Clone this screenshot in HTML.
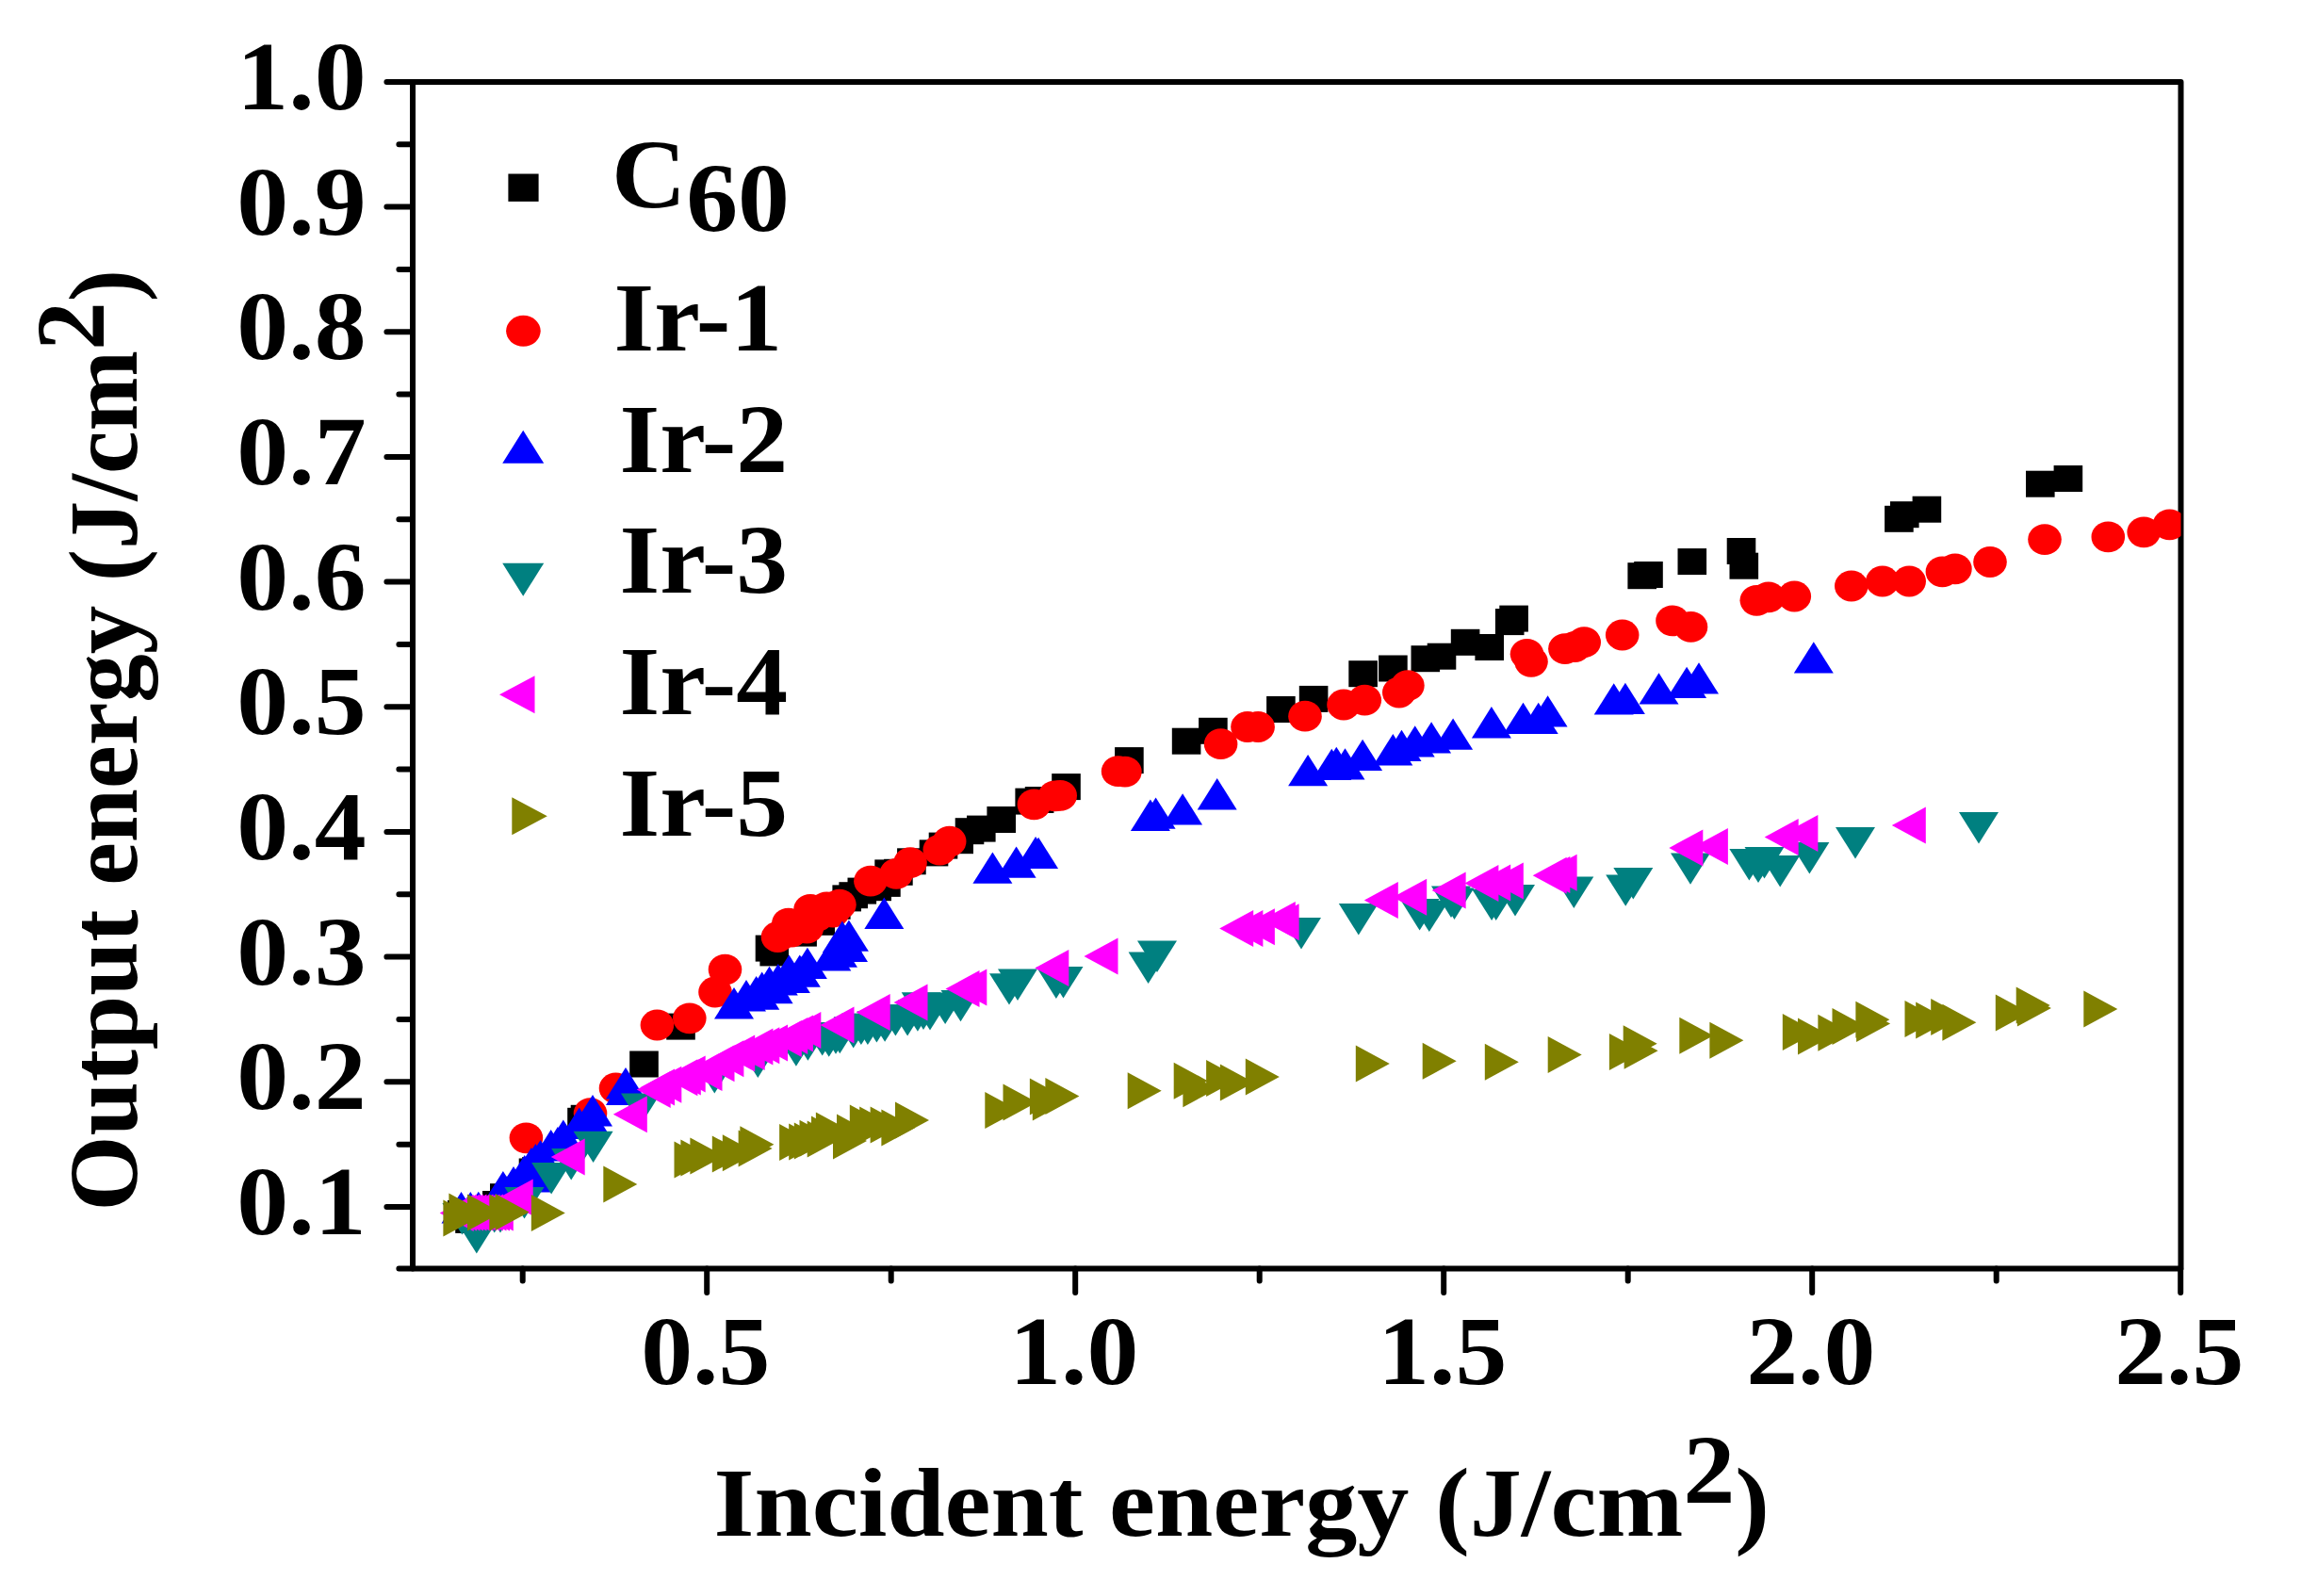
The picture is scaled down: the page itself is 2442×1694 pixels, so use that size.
<!DOCTYPE html>
<html lang="en"><head><meta charset="utf-8"><title>Output energy vs incident energy</title>
<style>
html,body{margin:0;padding:0;background:#fff}
body{width:2442px;height:1694px;overflow:hidden}
svg{display:block}
text{font-family:"Liberation Serif",serif;font-weight:bold;fill:#000}
.tk{font-size:104.5px}
.ax{stroke:#000;stroke-width:6;stroke-linecap:round;fill:none}
</style></head><body>
<svg width="2442" height="1694" viewBox="0 0 2442 1694">
<rect width="2442" height="1694" fill="#fff"/>
<g class="ax">
<path d="M438 86.9H2314.5V1346.5H438Z" stroke-linejoin="round"/>
<path d="M438 1346.5h-14.6M438 1281h-27.6M438 1214.7h-14.6M438 1148.3h-27.6M438 1082h-14.6M438 1015.6h-27.6M438 949.3h-14.6M438 883h-27.6M438 816.6h-14.6M438 750.3h-27.6M438 683.9h-14.6M438 617.6h-27.6M438 551.3h-14.6M438 484.9h-27.6M438 418.6h-14.6M438 352.3h-27.6M438 285.9h-14.6M438 219.6h-27.6M438 153.2h-14.6M438 86.9h-27.6M554.7 1346.5v13M750.2 1346.5v25.5M945.7 1346.5v13M1141.2 1346.5v25.5M1336.7 1346.5v13M1532.2 1346.5v25.5M1727.7 1346.5v13M1923.2 1346.5v25.5M2118.7 1346.5v13M2314.2 1346.5v25.5"/>
</g>
<text class="tk" transform="translate(388.5 1310) scale(1.05 1)" text-anchor="end">0.1</text>
<text class="tk" transform="translate(388.5 1177.3) scale(1.05 1)" text-anchor="end">0.2</text>
<text class="tk" transform="translate(388.5 1044.6) scale(1.05 1)" text-anchor="end">0.3</text>
<text class="tk" transform="translate(388.5 912) scale(1.05 1)" text-anchor="end">0.4</text>
<text class="tk" transform="translate(388.5 779.3) scale(1.05 1)" text-anchor="end">0.5</text>
<text class="tk" transform="translate(388.5 646.6) scale(1.05 1)" text-anchor="end">0.6</text>
<text class="tk" transform="translate(388.5 513.9) scale(1.05 1)" text-anchor="end">0.7</text>
<text class="tk" transform="translate(388.5 381.3) scale(1.05 1)" text-anchor="end">0.8</text>
<text class="tk" transform="translate(388.5 248.6) scale(1.05 1)" text-anchor="end">0.9</text>
<text class="tk" transform="translate(388.5 115.9) scale(1.05 1)" text-anchor="end">1.0</text>
<text class="tk" transform="translate(748.7 1468.5) scale(1.05 1)" text-anchor="middle">0.5</text>
<text class="tk" transform="translate(1139.7 1468.5) scale(1.05 1)" text-anchor="middle">1.0</text>
<text class="tk" transform="translate(1530.7 1468.5) scale(1.05 1)" text-anchor="middle">1.5</text>
<text class="tk" transform="translate(1921.7 1468.5) scale(1.05 1)" text-anchor="middle">2.0</text>
<text class="tk" transform="translate(2312.7 1468.5) scale(1.05 1)" text-anchor="middle">2.5</text>
<text class="tk" transform="translate(757.5 1630) scale(1.055 1)" text-anchor="start">Incident energy (J/cm<tspan dy="-35">2</tspan><tspan dy="35">)</tspan></text>
<text class="tk" style="font-size:102.8px" transform="translate(145 1285.4) rotate(-90)">Output energy (J/cm<tspan dy="-35">2</tspan><tspan dy="35">)</tspan></text>
<defs><clipPath id="pc"><rect x="438" y="86.9" width="1876.5" height="1259.6"/></clipPath></defs>
<g clip-path="url(#pc)">
<g fill="#000"><rect x="475" y="1274" width="30.6" height="28"/><rect x="483.2" y="1280.9" width="30.6" height="28"/><rect x="512" y="1264" width="30.6" height="28"/><rect x="520" y="1256.2" width="30.6" height="28"/><rect x="532.1" y="1248.8" width="30.6" height="28"/><rect x="550.7" y="1229.5" width="30.6" height="28"/><rect x="554.2" y="1228" width="30.6" height="28"/><rect x="602.2" y="1175.8" width="30.6" height="28"/><rect x="605.7" y="1172.8" width="30.6" height="28"/><rect x="668.2" y="1115.5" width="30.6" height="28"/><rect x="707.2" y="1075.6" width="30.6" height="28"/><rect x="801.7" y="992.6" width="30.6" height="28"/><rect x="806.4" y="997.4" width="30.6" height="28"/><rect x="836.3" y="976.6" width="30.6" height="28"/><rect x="855.4" y="964.8" width="30.6" height="28"/><rect x="872" y="947.8" width="30.6" height="28"/><rect x="883.4" y="939.4" width="30.6" height="28"/><rect x="890.4" y="936.2" width="30.6" height="28"/><rect x="899.5" y="931.6" width="30.6" height="28"/><rect x="915.4" y="928.2" width="30.6" height="28"/><rect x="925.1" y="923.9" width="30.6" height="28"/><rect x="928.3" y="912.4" width="30.6" height="28"/><rect x="938.1" y="911.8" width="30.6" height="28"/><rect x="952.1" y="900.3" width="30.6" height="28"/><rect x="975.7" y="891.4" width="30.6" height="28"/><rect x="985.7" y="883.6" width="30.6" height="28"/><rect x="1002.4" y="878.2" width="30.6" height="28"/><rect x="1013.7" y="868.2" width="30.6" height="28"/><rect x="1026" y="865.6" width="30.6" height="28"/><rect x="1047.4" y="856" width="30.6" height="28"/><rect x="1077.4" y="836.6" width="30.6" height="28"/><rect x="1087.8" y="835" width="30.6" height="28"/><rect x="1116.2" y="821.1" width="30.6" height="28"/><rect x="1183.1" y="793.1" width="30.6" height="28"/><rect x="1243.8" y="772.7" width="30.6" height="28"/><rect x="1272.1" y="761.8" width="30.6" height="28"/><rect x="1344.1" y="739" width="30.6" height="28"/><rect x="1378.8" y="727.9" width="30.6" height="28"/><rect x="1431.3" y="701.2" width="30.6" height="28"/><rect x="1463.1" y="695.5" width="30.6" height="28"/><rect x="1497.5" y="685.2" width="30.6" height="28"/><rect x="1514.7" y="682.7" width="30.6" height="28"/><rect x="1539.8" y="667.8" width="30.6" height="28"/><rect x="1565.4" y="673" width="30.6" height="28"/><rect x="1586.9" y="646.1" width="30.6" height="28"/><rect x="1591.3" y="642.6" width="30.6" height="28"/><rect x="1727.4" y="597.2" width="30.6" height="28"/><rect x="1734.2" y="596" width="30.6" height="28"/><rect x="1780.5" y="582.1" width="30.6" height="28"/><rect x="1832.7" y="571" width="30.6" height="28"/><rect x="1835.5" y="586.7" width="30.6" height="28"/><rect x="2000.1" y="536.8" width="30.6" height="28"/><rect x="2006" y="532.2" width="30.6" height="28"/><rect x="2029.6" y="526.7" width="30.6" height="28"/><rect x="2150" y="499.7" width="30.6" height="28"/><rect x="2179.6" y="494" width="30.6" height="28"/></g>
<g fill="#f00"><ellipse cx="558.4" cy="1207.8" rx="17.8" ry="16.4"/><ellipse cx="626.5" cy="1181.7" rx="17.8" ry="16.4"/><ellipse cx="653.5" cy="1155" rx="17.8" ry="16.4"/><ellipse cx="697.4" cy="1088" rx="17.8" ry="16.4"/><ellipse cx="731.8" cy="1080.8" rx="17.8" ry="16.4"/><ellipse cx="759" cy="1053" rx="17.8" ry="16.4"/><ellipse cx="769.5" cy="1029.1" rx="17.8" ry="16.4"/><ellipse cx="825.5" cy="994.5" rx="17.8" ry="16.4"/><ellipse cx="836.8" cy="980.2" rx="17.8" ry="16.4"/><ellipse cx="840" cy="989" rx="17.8" ry="16.4"/><ellipse cx="850" cy="981" rx="17.8" ry="16.4"/><ellipse cx="856.4" cy="985" rx="17.8" ry="16.4"/><ellipse cx="860" cy="965.4" rx="17.8" ry="16.4"/><ellipse cx="868" cy="972" rx="17.8" ry="16.4"/><ellipse cx="877.3" cy="962.8" rx="17.8" ry="16.4"/><ellipse cx="884" cy="968" rx="17.8" ry="16.4"/><ellipse cx="890.9" cy="960.2" rx="17.8" ry="16.4"/><ellipse cx="923.9" cy="935.2" rx="17.8" ry="16.4"/><ellipse cx="951.2" cy="927.4" rx="17.8" ry="16.4"/><ellipse cx="966" cy="915.7" rx="17.8" ry="16.4"/><ellipse cx="997.3" cy="902.1" rx="17.8" ry="16.4"/><ellipse cx="1007.7" cy="893.1" rx="17.8" ry="16.4"/><ellipse cx="1097.4" cy="853.9" rx="17.8" ry="16.4"/><ellipse cx="1119.6" cy="844.8" rx="17.8" ry="16.4"/><ellipse cx="1125.2" cy="844.4" rx="17.8" ry="16.4"/><ellipse cx="1186.6" cy="818.7" rx="17.8" ry="16.4"/><ellipse cx="1193.9" cy="819.1" rx="17.8" ry="16.4"/><ellipse cx="1295.6" cy="789.7" rx="17.8" ry="16.4"/><ellipse cx="1324" cy="771.5" rx="17.8" ry="16.4"/><ellipse cx="1335.1" cy="771.5" rx="17.8" ry="16.4"/><ellipse cx="1385" cy="760.2" rx="17.8" ry="16.4"/><ellipse cx="1426" cy="748" rx="17.8" ry="16.4"/><ellipse cx="1448.3" cy="743.2" rx="17.8" ry="16.4"/><ellipse cx="1484.8" cy="735" rx="17.8" ry="16.4"/><ellipse cx="1493.9" cy="727.6" rx="17.8" ry="16.4"/><ellipse cx="1620.5" cy="694.3" rx="17.8" ry="16.4"/><ellipse cx="1625" cy="702.3" rx="17.8" ry="16.4"/><ellipse cx="1660.9" cy="688.6" rx="17.8" ry="16.4"/><ellipse cx="1671.3" cy="686.5" rx="17.8" ry="16.4"/><ellipse cx="1681.2" cy="681.7" rx="17.8" ry="16.4"/><ellipse cx="1721.7" cy="674" rx="17.8" ry="16.4"/><ellipse cx="1775" cy="658.9" rx="17.8" ry="16.4"/><ellipse cx="1794.5" cy="665.4" rx="17.8" ry="16.4"/><ellipse cx="1864.3" cy="637.3" rx="17.8" ry="16.4"/><ellipse cx="1876.8" cy="633.9" rx="17.8" ry="16.4"/><ellipse cx="1904.3" cy="633" rx="17.8" ry="16.4"/><ellipse cx="1964.8" cy="622" rx="17.8" ry="16.4"/><ellipse cx="1997.8" cy="617" rx="17.8" ry="16.4"/><ellipse cx="2026.2" cy="617" rx="17.8" ry="16.4"/><ellipse cx="2061.4" cy="606.9" rx="17.8" ry="16.4"/><ellipse cx="2074.9" cy="603.9" rx="17.8" ry="16.4"/><ellipse cx="2112" cy="596.5" rx="17.8" ry="16.4"/><ellipse cx="2170" cy="572.6" rx="17.8" ry="16.4"/><ellipse cx="2237.3" cy="569.9" rx="17.8" ry="16.4"/><ellipse cx="2275.2" cy="564.8" rx="17.8" ry="16.4"/><ellipse cx="2302.5" cy="556.8" rx="17.8" ry="16.4"/></g>
<g fill="#00f"><path d="M489.5 1265.1L510.5 1298.4L468.5 1298.4Z"/><path d="M499.3 1265.1L520.3 1298.4L478.3 1298.4Z"/><path d="M507.8 1264.7L528.8 1298L486.8 1298Z"/><path d="M533.9 1243.1L554.9 1276.4L512.9 1276.4Z"/><path d="M545 1238.1L566 1271.4L524 1271.4Z"/><path d="M556.7 1226.1L577.7 1259.4L535.7 1259.4Z"/><path d="M564 1232.1L585 1265.4L543 1265.4Z"/><path d="M563.9 1218.1L584.9 1251.4L542.9 1251.4Z"/><path d="M568.4 1214.1L589.4 1247.4L547.4 1247.4Z"/><path d="M573.6 1210.1L594.6 1243.4L552.6 1243.4Z"/><path d="M584.7 1199.1L605.7 1232.4L563.7 1232.4Z"/><path d="M591.9 1196.1L612.9 1229.4L570.9 1229.4Z"/><path d="M597.8 1188.6L618.8 1221.9L576.8 1221.9Z"/><path d="M614.7 1175.6L635.7 1208.9L593.7 1208.9Z"/><path d="M624.8 1170.1L645.8 1203.4L603.8 1203.4Z"/><path d="M629 1162.1L650 1195.4L608 1195.4Z"/><path d="M664 1133.1L685 1166.4L643 1166.4Z"/><path d="M664 1139.6L685 1172.9L643 1172.9Z"/><path d="M779 1048.1L800 1081.4L758 1081.4Z"/><path d="M792 1040.1L813 1073.4L771 1073.4Z"/><path d="M802.6 1036.1L823.6 1069.4L781.6 1069.4Z"/><path d="M806.3 1038.5L827.3 1071.8L785.3 1071.8Z"/><path d="M808.7 1031.5L829.7 1064.8L787.7 1064.8Z"/><path d="M816.5 1025.7L837.5 1059L795.5 1059Z"/><path d="M820.6 1031.9L841.6 1065.2L799.6 1065.2Z"/><path d="M825.8 1023.1L846.8 1056.4L804.8 1056.4Z"/><path d="M837.4 1013.5L858.4 1046.8L816.4 1046.8Z"/><path d="M838.9 1020.6L859.9 1053.9L817.9 1053.9Z"/><path d="M848.7 1013.5L869.7 1046.8L827.7 1046.8Z"/><path d="M849.8 1014.5L870.8 1047.8L828.8 1047.8Z"/><path d="M856.9 1005.7L877.9 1039L835.9 1039Z"/><path d="M882.3 997.1L903.3 1030.4L861.3 1030.4Z"/><path d="M889 993.4L910 1026.7L868 1026.7Z"/><path d="M893.9 977.6L914.9 1010.9L872.9 1010.9Z"/><path d="M900.9 976.4L921.9 1009.7L879.9 1009.7Z"/><path d="M900 987.6L921 1020.9L879 1020.9Z"/><path d="M938.3 952.6L959.3 985.9L917.3 985.9Z"/><path d="M1053.4 904.5L1074.4 937.8L1032.4 937.8Z"/><path d="M1078.6 898.5L1099.6 931.8L1057.6 931.8Z"/><path d="M1099.1 888L1120.1 921.3L1078.1 921.3Z"/><path d="M1102.1 888.8L1123.1 922.1L1081.1 922.1Z"/><path d="M1220.9 848.6L1241.9 881.9L1199.9 881.9Z"/><path d="M1226.6 846.5L1247.6 879.8L1205.6 879.8Z"/><path d="M1255.1 842.3L1276.1 875.6L1234.1 875.6Z"/><path d="M1291.7 826.1L1312.7 859.4L1270.7 859.4Z"/><path d="M1388.1 801L1409.1 834.3L1367.1 834.3Z"/><path d="M1413.3 794.8L1434.3 828.1L1392.3 828.1Z"/><path d="M1418.3 792.8L1439.3 826.1L1397.3 826.1Z"/><path d="M1427.5 794.3L1448.5 827.6L1406.5 827.6Z"/><path d="M1446.1 784.8L1467.1 818.1L1425.1 818.1Z"/><path d="M1478.3 779.1L1499.3 812.4L1457.3 812.4Z"/><path d="M1487.5 774.8L1508.5 808.1L1466.5 808.1Z"/><path d="M1501.7 770.3L1522.7 803.6L1480.7 803.6Z"/><path d="M1519.1 766.3L1540.1 799.6L1498.1 799.6Z"/><path d="M1542.1 762.5L1563.1 795.8L1521.1 795.8Z"/><path d="M1582.9 750.1L1603.9 783.4L1561.9 783.4Z"/><path d="M1616.5 745.8L1637.5 779.1L1595.5 779.1Z"/><path d="M1632.7 745.8L1653.7 779.1L1611.7 779.1Z"/><path d="M1642.6 738.3L1663.6 771.6L1621.6 771.6Z"/><path d="M1712.7 725.3L1733.7 758.6L1691.7 758.6Z"/><path d="M1724.9 724.8L1745.9 758.1L1703.9 758.1Z"/><path d="M1760.5 714.3L1781.5 747.6L1739.5 747.6Z"/><path d="M1790.1 707.8L1811.1 741.1L1769.1 741.1Z"/><path d="M1803 703.3L1824 736.6L1782 736.6Z"/><path d="M1924.8 681.3L1945.8 714.6L1903.8 714.6Z"/></g>
<g fill="#008080"><path d="M490.4 1310.4L511.4 1277.1L469.4 1277.1Z"/><path d="M505.8 1330.4L526.8 1297.1L484.8 1297.1Z"/><path d="M524.7 1308.4L545.7 1275.1L503.7 1275.1Z"/><path d="M531 1308.4L552 1275.1L510 1275.1Z"/><path d="M556.5 1293.4L577.5 1260.1L535.5 1260.1Z"/><path d="M585.1 1267.4L606.1 1234.1L564.1 1234.1Z"/><path d="M606.2 1252.4L627.2 1219.1L585.2 1219.1Z"/><path d="M629.6 1234L650.6 1200.7L608.6 1200.7Z"/><path d="M680 1193.9L701 1160.6L659 1160.6Z"/><path d="M758.3 1160.5L779.3 1127.2L737.3 1127.2Z"/><path d="M804.3 1143.9L825.3 1110.6L783.3 1110.6Z"/><path d="M844.9 1131.8L865.9 1098.5L823.9 1098.5Z"/><path d="M857.4 1125.7L878.4 1092.4L836.4 1092.4Z"/><path d="M872.7 1120.5L893.7 1087.2L851.7 1087.2Z"/><path d="M879.7 1121.7L900.7 1088.4L858.7 1088.4Z"/><path d="M887 1118.7L908 1085.4L866 1085.4Z"/><path d="M891.3 1118.2L912.3 1084.9L870.3 1084.9Z"/><path d="M905.7 1112.5L926.7 1079.2L884.7 1079.2Z"/><path d="M913.9 1109.1L934.9 1075.8L892.9 1075.8Z"/><path d="M920.9 1109.1L941.9 1075.8L899.9 1075.8Z"/><path d="M930.4 1106.5L951.4 1073.2L909.4 1073.2Z"/><path d="M939.1 1105.7L960.1 1072.4L918.1 1072.4Z"/><path d="M950.4 1099.5L971.4 1066.2L929.4 1066.2Z"/><path d="M963.1 1099.5L984.1 1066.2L942.1 1066.2Z"/><path d="M973.9 1094.7L994.9 1061.4L952.9 1061.4Z"/><path d="M977.7 1086.5L998.7 1053.2L956.7 1053.2Z"/><path d="M980 1093L1001 1059.7L959 1059.7Z"/><path d="M987 1093.5L1008 1060.2L966 1060.2Z"/><path d="M1003.1 1086.9L1024.1 1053.6L982.1 1053.6Z"/><path d="M1019.5 1084.3L1040.5 1051L998.5 1051Z"/><path d="M1071 1066.5L1092 1033.2L1050 1033.2Z"/><path d="M1080 1061.9L1101 1028.6L1059 1028.6Z"/><path d="M1120.9 1059.9L1141.9 1026.6L1099.9 1026.6Z"/><path d="M1128.5 1059.4L1149.5 1026.1L1107.5 1026.1Z"/><path d="M1218.6 1043.9L1239.6 1010.6L1197.6 1010.6Z"/><path d="M1228 1031.9L1249 998.6L1207 998.6Z"/><path d="M1381 1007.4L1402 974.1L1360 974.1Z"/><path d="M1441.8 992.4L1462.8 959.1L1420.8 959.1Z"/><path d="M1506.6 987.4L1527.6 954.1L1485.6 954.1Z"/><path d="M1516.8 989.1L1537.8 955.8L1495.8 955.8Z"/><path d="M1540 973.9L1561 940.6L1519 940.6Z"/><path d="M1543.5 975.9L1564.5 942.6L1522.5 942.6Z"/><path d="M1583.1 977.1L1604.1 943.8L1562.1 943.8Z"/><path d="M1587.7 977.1L1608.7 943.8L1566.7 943.8Z"/><path d="M1608 972.4L1629 939.1L1587 939.1Z"/><path d="M1670.3 963.9L1691.3 930.6L1649.3 930.6Z"/><path d="M1725.2 961.7L1746.2 928.4L1704.2 928.4Z"/><path d="M1733.3 954.4L1754.3 921.1L1712.3 921.1Z"/><path d="M1794 938.7L1815 905.4L1773 905.4Z"/><path d="M1856.4 934.4L1877.4 901.1L1835.4 901.1Z"/><path d="M1866 937.1L1887 903.8L1845 903.8Z"/><path d="M1872.5 932.4L1893.5 899.1L1851.5 899.1Z"/><path d="M1889.2 941.4L1910.2 908.1L1868.2 908.1Z"/><path d="M1920.4 927.4L1941.4 894.1L1899.4 894.1Z"/><path d="M1969 911.4L1990 878.1L1948 878.1Z"/><path d="M2100 895.4L2121 862.1L2079 862.1Z"/></g>
<g fill="#f0f"><path d="M466.7 1287.4L502.7 1267.9L502.7 1306.9Z"/><path d="M470 1287L506 1267.5L506 1306.5Z"/><path d="M473.5 1287L509.5 1267.5L509.5 1306.5Z"/><path d="M477 1287L513 1267.5L513 1306.5Z"/><path d="M480.5 1287L516.5 1267.5L516.5 1306.5Z"/><path d="M484 1287L520 1267.5L520 1306.5Z"/><path d="M487.5 1287L523.5 1267.5L523.5 1306.5Z"/><path d="M491 1287L527 1267.5L527 1306.5Z"/><path d="M494.5 1287L530.5 1267.5L530.5 1306.5Z"/><path d="M498 1287L534 1267.5L534 1306.5Z"/><path d="M501.5 1287L537.5 1267.5L537.5 1306.5Z"/><path d="M505 1287L541 1267.5L541 1306.5Z"/><path d="M508.8 1287L544.8 1267.5L544.8 1306.5Z"/><path d="M529.7 1271L565.7 1251.5L565.7 1290.5Z"/><path d="M584.7 1228L620.7 1208.5L620.7 1247.5Z"/><path d="M650.8 1182.7L686.8 1163.2L686.8 1202.2Z"/><path d="M675.7 1156.5L711.7 1137L711.7 1176Z"/><path d="M680 1154L716 1134.5L716 1173.5Z"/><path d="M687.3 1151.3L723.3 1131.8L723.3 1170.8Z"/><path d="M704.4 1143.8L740.4 1124.3L740.4 1163.3Z"/><path d="M707.8 1143L743.8 1123.5L743.8 1162.5Z"/><path d="M712.7 1140L748.7 1120.5L748.7 1159.5Z"/><path d="M730.5 1138.6L766.5 1119.1L766.5 1158.1Z"/><path d="M743.5 1128.7L779.5 1109.2L779.5 1148.2Z"/><path d="M753.4 1123.7L789.4 1104.2L789.4 1143.2Z"/><path d="M765.2 1118L801.2 1098.5L801.2 1137.5Z"/><path d="M775.7 1116.5L811.7 1097L811.7 1136Z"/><path d="M784.4 1111L820.4 1091.5L820.4 1130.5Z"/><path d="M791.3 1109.7L827.3 1090.2L827.3 1129.2Z"/><path d="M800 1107L836 1087.5L836 1126.5Z"/><path d="M814.8 1102.5L850.8 1083L850.8 1122Z"/><path d="M821.2 1099.5L857.2 1080L857.2 1119Z"/><path d="M827 1097L863 1077.5L863 1116.5Z"/><path d="M835.3 1093.5L871.3 1074L871.3 1113Z"/><path d="M870.5 1088L906.5 1068.5L906.5 1107.5Z"/><path d="M908.7 1074.5L944.7 1055L944.7 1094Z"/><path d="M948.5 1064L984.5 1044.5L984.5 1083.5Z"/><path d="M1003.5 1049.5L1039.5 1030L1039.5 1069Z"/><path d="M1011.3 1048L1047.3 1028.5L1047.3 1067.5Z"/><path d="M1098.3 1027.5L1134.3 1008L1134.3 1047Z"/><path d="M1150.5 1015.1L1186.5 995.6L1186.5 1034.6Z"/><path d="M1294.2 985.4L1330.2 965.9L1330.2 1004.9Z"/><path d="M1304.4 985.4L1340.4 965.9L1340.4 1004.9Z"/><path d="M1316.9 983.7L1352.9 964.2L1352.9 1003.2Z"/><path d="M1338.8 976.5L1374.8 957L1374.8 996Z"/><path d="M1342.6 978.7L1378.6 959.2L1378.6 998.2Z"/><path d="M1447.8 955.4L1483.8 935.9L1483.8 974.9Z"/><path d="M1478.2 952.3L1514.2 932.8L1514.2 971.8Z"/><path d="M1519.6 945.1L1555.6 925.6L1555.6 964.6Z"/><path d="M1554.4 937.4L1590.4 917.9L1590.4 956.9Z"/><path d="M1567.2 937L1603.2 917.5L1603.2 956.5Z"/><path d="M1580.8 934.9L1616.8 915.4L1616.8 954.4Z"/><path d="M1626.7 929.2L1662.7 909.7L1662.7 948.7Z"/><path d="M1630.3 928.5L1666.3 909L1666.3 948Z"/><path d="M1637.6 926.2L1673.6 906.7L1673.6 945.7Z"/><path d="M1771.3 900L1807.3 880.5L1807.3 919.5Z"/><path d="M1797.9 898.6L1833.9 879.1L1833.9 918.1Z"/><path d="M1872.7 888.5L1908.7 869L1908.7 908Z"/><path d="M1893.4 884.5L1929.4 865L1929.4 904Z"/><path d="M2007.8 876.1L2043.8 856.6L2043.8 895.6Z"/></g>
<g fill="#808000"><path d="M506.4 1293L470.4 1273.5L470.4 1312.5Z"/><path d="M512.4 1286L476.4 1266.5L476.4 1305.5Z"/><path d="M532 1287L496 1267.5L496 1306.5Z"/><path d="M555.3 1287L519.3 1267.5L519.3 1306.5Z"/><path d="M561.6 1286.5L525.6 1267L525.6 1306Z"/><path d="M599.8 1287.4L563.8 1267.9L563.8 1306.9Z"/><path d="M676.3 1257L640.3 1237.5L640.3 1276.5Z"/><path d="M751.5 1231L715.5 1211.5L715.5 1250.5Z"/><path d="M758.4 1229L722.4 1209.5L722.4 1248.5Z"/><path d="M768.4 1227L732.4 1207.5L732.4 1246.5Z"/><path d="M791.8 1225L755.8 1205.5L755.8 1244.5Z"/><path d="M802.8 1223.8L766.8 1204.3L766.8 1243.3Z"/><path d="M819.6 1219L783.6 1199.5L783.6 1238.5Z"/><path d="M821.4 1214.8L785.4 1195.3L785.4 1234.3Z"/><path d="M863.1 1212.5L827.1 1193L827.1 1232Z"/><path d="M873.2 1212L837.2 1192.5L837.2 1231.5Z"/><path d="M878.8 1211L842.8 1191.5L842.8 1230.5Z"/><path d="M884.5 1208.3L848.5 1188.8L848.5 1227.8Z"/><path d="M892.7 1209L856.7 1189.5L856.7 1228.5Z"/><path d="M897 1204L861 1184.5L861 1223.5Z"/><path d="M901.9 1200L865.9 1180.5L865.9 1219.5Z"/><path d="M920 1211L884 1191.5L884 1230.5Z"/><path d="M924 1202L888 1182.5L888 1221.5Z"/><path d="M937.8 1192L901.8 1172.5L901.8 1211.5Z"/><path d="M948.2 1194L912.2 1174.5L912.2 1213.5Z"/><path d="M959.6 1194L923.6 1174.5L923.6 1213.5Z"/><path d="M971.4 1197L935.4 1177.5L935.4 1216.5Z"/><path d="M986 1189L950 1169.5L950 1208.5Z"/><path d="M1081.3 1178.4L1045.3 1158.9L1045.3 1197.9Z"/><path d="M1100.5 1170L1064.5 1150.5L1064.5 1189.5Z"/><path d="M1128.9 1164L1092.9 1144.5L1092.9 1183.5Z"/><path d="M1131.8 1170L1095.8 1150.5L1095.8 1189.5Z"/><path d="M1145.4 1163.4L1109.4 1143.9L1109.4 1182.9Z"/><path d="M1232.7 1157.7L1196.7 1138.2L1196.7 1177.2Z"/><path d="M1281.7 1147.2L1245.7 1127.7L1245.7 1166.7Z"/><path d="M1291.4 1155.7L1255.4 1136.2L1255.4 1175.2Z"/><path d="M1316.1 1144.6L1280.1 1125.1L1280.1 1164.1Z"/><path d="M1330.9 1149L1294.9 1129.5L1294.9 1168.5Z"/><path d="M1357.8 1143.1L1321.8 1123.6L1321.8 1162.6Z"/><path d="M1474.8 1129.1L1438.8 1109.6L1438.8 1148.6Z"/><path d="M1545.7 1126.3L1509.7 1106.8L1509.7 1145.8Z"/><path d="M1611.8 1127.2L1575.8 1107.7L1575.8 1146.7Z"/><path d="M1678.7 1119.6L1642.7 1100.1L1642.7 1139.1Z"/><path d="M1743.9 1116.6L1707.9 1097.1L1707.9 1136.1Z"/><path d="M1758.7 1107.7L1722.7 1088.2L1722.7 1127.2Z"/><path d="M1759.6 1115.2L1723.6 1095.7L1723.6 1134.7Z"/><path d="M1818.3 1099.2L1782.3 1079.7L1782.3 1118.7Z"/><path d="M1850.4 1104.3L1814.4 1084.8L1814.4 1123.8Z"/><path d="M1927.8 1095.4L1891.8 1075.9L1891.8 1114.9Z"/><path d="M1944 1100L1908 1080.5L1908 1119.5Z"/><path d="M1965.4 1096.2L1929.4 1076.7L1929.4 1115.7Z"/><path d="M1980.5 1089.4L1944.5 1069.9L1944.5 1108.9Z"/><path d="M2005.4 1082.2L1969.4 1062.7L1969.4 1101.7Z"/><path d="M2006.1 1086.4L1970.1 1066.9L1970.1 1105.9Z"/><path d="M2057.5 1081.5L2021.5 1062L2021.5 1101Z"/><path d="M2069.2 1083.1L2033.2 1063.6L2033.2 1102.6Z"/><path d="M2085.2 1079.6L2049.2 1060.1L2049.2 1099.1Z"/><path d="M2097.4 1085.2L2061.4 1065.7L2061.4 1104.7Z"/><path d="M2153.8 1074.9L2117.8 1055.4L2117.8 1094.4Z"/><path d="M2175.7 1066.9L2139.7 1047.4L2139.7 1086.4Z"/><path d="M2176.9 1069.9L2140.9 1050.4L2140.9 1089.4Z"/><path d="M2247.3 1070.9L2211.3 1051.4L2211.3 1090.4Z"/></g>
</g>
<g>
<g fill="#000"><rect x="539.4" y="184.5" width="32.2" height="29.4"/></g>
<g fill="#f00"><ellipse cx="555.4" cy="351.3" rx="18.3" ry="16.5"/></g>
<g fill="#00f"><path d="M555.2 456.8L577.2 491.8L533.2 491.8Z"/></g>
<g fill="#008080"><path d="M555.2 632.7L577.2 597.7L533.2 597.7Z"/></g>
<g fill="#f0f"><path d="M530 737.3L567.5 717.3L567.5 757.3Z"/></g>
<g fill="#808000"><path d="M580.8 866.3L543.3 846.3L543.3 886.3Z"/></g>
<text class="tk" transform="translate(649 220.3) scale(1.05 1)" text-anchor="start">C<tspan dy="25">60</tspan></text>
<text class="tk" transform="translate(651.5 371.5) scale(1.05 1)" text-anchor="start">Ir-1</text>
<text class="tk" transform="translate(657.5 501.2) scale(1.05 1)" text-anchor="start">Ir-2</text>
<text class="tk" transform="translate(657.5 629.2) scale(1.05 1)" text-anchor="start">Ir-3</text>
<text class="tk" transform="translate(657.5 758.3) scale(1.05 1)" text-anchor="start">Ir-4</text>
<text class="tk" transform="translate(657.5 886.5) scale(1.05 1)" text-anchor="start">Ir-5</text>
</g>
</svg>
</body></html>
